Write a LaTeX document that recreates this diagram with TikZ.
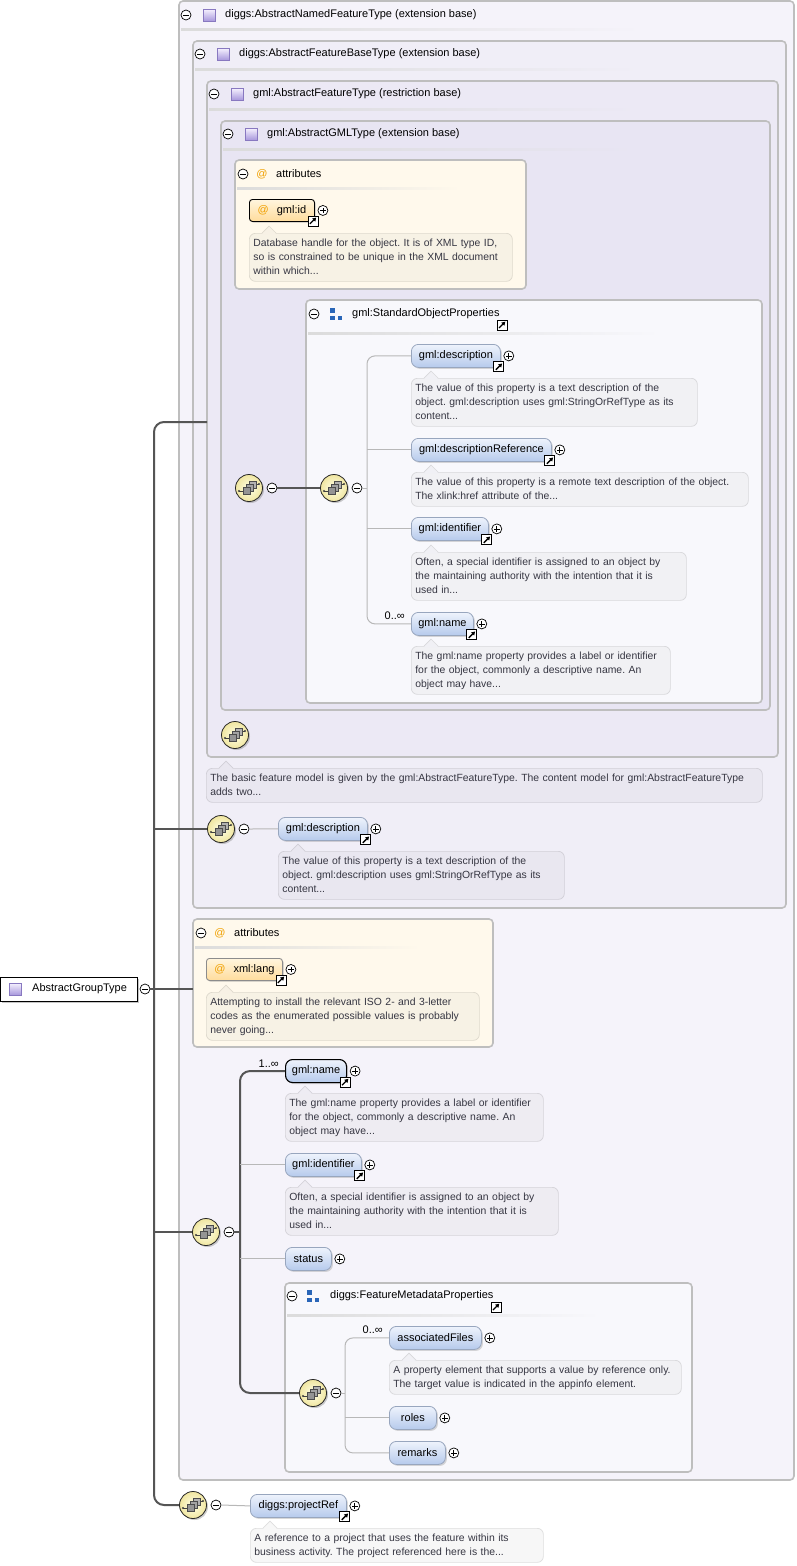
\documentclass[tikz,border=0pt]{standalone}
\usepackage{fontspec}
\setmainfont{Liberation Sans}
\usetikzlibrary{shadows,arrows.meta,calc}
\frenchspacing
\definecolor{bgA}{HTML}{F5F3FA}
\definecolor{bgB}{HTML}{F0EEF7}
\definecolor{bgC}{HTML}{ECE9F5}
\definecolor{bgD}{HTML}{E8E5F3}
\definecolor{creamBg}{HTML}{FFF9EC}
\definecolor{grpBg}{HTML}{F8F8FC}
\definecolor{pageBg}{HTML}{FFFFFF}
\definecolor{boxLine}{HTML}{BEBEBE}
\definecolor{elTop}{HTML}{EEF3FC}
\definecolor{elBot}{HTML}{B6CAEC}
\definecolor{elLine}{HTML}{98A6BE}
\definecolor{atTop}{HTML}{FFF5DE}
\definecolor{atBot}{HTML}{FFDC9C}
\definecolor{trunkC}{HTML}{555555}
\definecolor{thinC}{HTML}{B8B8B8}
\definecolor{descText}{HTML}{363642}
\definecolor{atOrange}{HTML}{F0A000}
\definecolor{grpBlue}{HTML}{2A66B8}
\definecolor{ctTop}{HTML}{F6F2FF}
\definecolor{ctBot}{HTML}{A898DC}
\definecolor{ctLine}{HTML}{8878C0}
\definecolor{seqIn}{HTML}{FFFFE8}
\definecolor{seqOut}{HTML}{F0E6A0}
\tikzset{
 every node/.style={font=\fontsize{11}{13}\selectfont},
 container/.style={draw=boxLine, line width=1.6pt, rounded corners=4pt},
 shad/.style={drop shadow={shadow xshift=1.5pt, shadow yshift=-1.5pt, opacity=0.3}},
 elem/.style={draw=elLine, line width=0.8pt, rounded corners=7pt, top color=elTop, bottom color=elBot,
   minimum height=23pt, inner sep=0pt, anchor=north west, shad},
 reqelem/.style={elem, draw=black, line width=1.1pt},
 attr/.style={draw=black, line width=0.9pt, rounded corners=3pt, top color=atTop, bottom color=atBot,
   minimum height=22pt, inner sep=0pt, anchor=north west, shad},
 pmc/.style={circle, draw=black, fill=white, line width=0.7pt, minimum size=10pt, inner sep=0pt},
 minus/.style={pmc, path picture={\draw[line width=0.8pt] ([xshift=-2.7pt]path picture bounding box.center) -- ([xshift=2.7pt]path picture bounding box.center);}},
 plus/.style={pmc, path picture={\draw[line width=0.8pt] ([xshift=-2.7pt]path picture bounding box.center) -- ([xshift=2.7pt]path picture bounding box.center) ([yshift=-2.7pt]path picture bounding box.center) -- ([yshift=2.7pt]path picture bounding box.center);}},
 refb/.style={draw=black, fill=white, line width=0.7pt, minimum size=10pt, inner sep=0pt,
   path picture={\draw[line width=1.3pt, -{Triangle[length=3.6pt,width=4.2pt]}] ([xshift=-3pt,yshift=-3pt]path picture bounding box.center) -- ([xshift=3.3pt,yshift=3.3pt]path picture bounding box.center);}},
 seq/.style={circle, draw=black!85, line width=0.8pt, inner color=seqIn, outer color=seqOut,
   minimum size=27pt, inner sep=0pt, drop shadow={shadow xshift=1.5pt, shadow yshift=-1.5pt, opacity=0.4}},
 ctype/.style={draw=ctLine, line width=0.7pt, top color=ctTop, bottom color=ctBot, minimum size=12pt, inner sep=0pt},
 grpic/.style={minimum size=13pt, inner sep=0pt, path picture={
   \fill[grpBlue] ([xshift=-6pt,yshift=6pt]path picture bounding box.center) rectangle ([xshift=-1.5pt,yshift=1.5pt]path picture bounding box.center);
   \fill[grpBlue] ([xshift=-6pt,yshift=-1.5pt]path picture bounding box.center) rectangle ([xshift=-1.5pt,yshift=-6pt]path picture bounding box.center);
   \fill[grpBlue] ([xshift=1.5pt,yshift=-1.5pt]path picture bounding box.center) rectangle ([xshift=6pt,yshift=-6pt]path picture bounding box.center);}},
 hdr/.style={anchor=west, inner sep=0pt},
 atsign/.style={text=atOrange, inner sep=0pt},
 card/.style={anchor=base east, inner sep=0pt},
 desc/.style={fill=#1!97!black, draw=#1!87!black, line width=0.7pt, rounded corners=6pt,
   anchor=north west, align=left, inner xsep=4pt, inner ysep=3pt, text=descText,
   font=\fontsize{10.4}{14}\selectfont, execute at begin node=\strut, execute at end node=\strut},
 trunk/.style={draw=trunkC, line width=2pt},
 thinc/.style={draw=thinC, line width=1pt},
}
\newcommand\notch[2]{%
 \fill[#2!97!black] ([xshift=13pt,yshift=-1pt]#1.north west) -- ([xshift=20pt,yshift=7pt]#1.north west) -- ([xshift=27pt,yshift=-1pt]#1.north west) -- cycle;
 \draw[#2!87!black, line width=0.7pt] ([xshift=13pt]#1.north west) -- ([xshift=20pt,yshift=7pt]#1.north west) -- ([xshift=27pt]#1.north west);}
\newcommand\El[6]{%
 \node[#1, minimum width=#5pt] (#2) at (#3,#4) {#6};
 \node[plus] (#2p) at ([xshift=8pt]#2.east) {};}
\newcommand\Rf[1]{\node[refb] (#1r) at ([xshift=-2pt,yshift=1pt]#1.south east) {};}
\newcommand\seqglyph[1]{%
 \begin{scope}[shift={(#1.center)}]
  \draw[black!75, line width=0.7pt] (-10,3) -- (-6,3) (7,-4) -- (10,-4);
  \fill[black!75] (-10,3) circle (1.2pt) (10,-4) circle (1.2pt);
  \filldraw[draw=black!70, fill=black!30, line width=0.5pt] (0,-7) rectangle (7,0);
  \filldraw[draw=black!70, fill=black!36, line width=0.5pt] (-3,-4) rectangle (4,3);
  \filldraw[draw=black!70, fill=black!42, line width=0.5pt] (-6,-1) rectangle (1,6);
 \end{scope}}
\newcommand\Seq[3]{\node[seq] (#1) at (#2,#3) {}; \seqglyph{#1}}
\begin{document}
\begin{tikzpicture}[x=1pt,y=-1pt]
\useasboundingbox (0,0) rectangle (796,1566);
\fill[white] (0,0) rectangle (796,1566);
% containers
\filldraw[container, fill=bgA] (179,1) rectangle (794,1480);
\shade[left color=black!14, right color=bgA] (181,28) rectangle (642,30);
\filldraw[container, fill=bgB] (193,41) rectangle (786,908);
\shade[left color=black!14, right color=bgB] (195,68) rectangle (640,70);
\filldraw[container, fill=bgC] (207,81) rectangle (778,757);
\shade[left color=black!14, right color=bgC] (209,108) rectangle (638,110);
\filldraw[container, fill=bgD] (221,121) rectangle (770,710);
\shade[left color=black!14, right color=bgD] (223,148) rectangle (635,150);
\filldraw[container, fill=creamBg] (235,160) rectangle (526,289);
\shade[left color=black!14, right color=creamBg] (237,187) rectangle (460,189);
\filldraw[container, fill=grpBg] (306,300) rectangle (762,703);
\shade[left color=black!14, right color=grpBg] (308,332) rectangle (660,334);
\filldraw[container, fill=creamBg] (193,919) rectangle (493,1047);
\shade[left color=black!14, right color=creamBg] (195,946) rectangle (420,948);
\filldraw[container, fill=grpBg] (285,1283) rectangle (692,1472);
\shade[left color=black!14, right color=grpBg] (287,1314) rectangle (600,1316);
% headers
\node[minus] (h1m) at (186,15) {}; \node[ctype] (h1i) at (209,15) {};
\node[hdr] (h1t) at (225,15) {diggs:AbstractNamedFeatureType (extension base)};
\node[minus] (h2m) at (200,54) {}; \node[ctype] (h2i) at (223,54) {};
\node[hdr] (h2t) at (239,54) {diggs:AbstractFeatureBaseType (extension base)};
\node[minus] (h3m) at (214,94) {}; \node[ctype] (h3i) at (237,94) {};
\node[hdr] (h3t) at (253,94) {gml:AbstractFeatureType (restriction base)};
\node[minus] (h4m) at (228,134) {}; \node[ctype] (h4i) at (251,134) {};
\node[hdr] (h4t) at (267,134) {gml:AbstractGMLType (extension base)};
\node[minus] (a1m) at (243,174) {}; \node[atsign] (a1i) at (262,174) {@};
\node[hdr] (a1t) at (276,174) {attributes};
\node[minus] (g1m) at (314,314) {}; \node[grpic] (g1i) at (336,314) {};
\node[hdr] (g1t) at (352,314) {gml:StandardObjectProperties};
\node[refb] (g1r) at (502,325) {};
\node[minus] (a2m) at (201,933) {}; \node[atsign] (a2i) at (220,933) {@};
\node[hdr] (a2t) at (234,933) {attributes};
\node[minus] (g2m) at (292,1296) {}; \node[grpic] (g2i) at (313,1296) {};
\node[hdr] (g2t) at (330,1296) {diggs:FeatureMetadataProperties};
\node[refb] (g2r) at (496,1307) {};
% root
\node[draw=black, line width=0.9pt, fill=white, minimum width=137pt, minimum height=24pt, anchor=north west, inner sep=0pt, drop shadow={shadow xshift=2pt, shadow yshift=-2pt, opacity=0.45}] (root) at (0,977) {};
\node[ctype] (rooti) at (15,989) {};
\node[hdr] (roott) at (32,989) {AbstractGroupType};
\node[minus] (rootm) at (145,989) {};
% attribute gml:id
\El{attr}{aId}{249}{199}{65}{\textcolor{atOrange}{@}\hspace{8pt}gml:id}\Rf{aId}
\node[desc=creamBg, text width=255pt] (dId) at (249,233) {Database handle for the object. It is of XML type ID,\\so is constrained to be unique in the XML document\\within which...};
\notch{dId}{creamBg}
% sequences
\Seq{seqA}{249}{488} \node[minus] (mA) at (272,488) {};
\Seq{seqB}{334}{488} \node[minus] (mB) at (357,488) {};
\Seq{seqC}{235}{735}
\Seq{seqD}{221}{829} \node[minus] (mD) at (244,829) {};
\Seq{seqG}{206}{1232} \node[minus] (mG) at (229,1232) {};
\Seq{seqH}{313}{1393} \node[minus] (mH) at (336,1393) {};
\Seq{seqP}{193}{1505} \node[minus] (mP) at (216,1505) {};
% StandardObjectProperties
\El{elem}{eDesc1}{411}{344}{89}{gml:description}\Rf{eDesc1}
\node[desc=grpBg, text width=278pt] (dDesc1) at (411,378) {The value of this property is a text description of the\\object. gml:description uses gml:StringOrRefType as its\\content...};
\notch{dDesc1}{grpBg}
\El{elem}{eDescRef}{411}{438}{140}{gml:descriptionReference}\Rf{eDescRef}
\node[desc=grpBg, text width=329pt] (dDescRef) at (411,472) {The value of this property is a remote text description of the object.\\The xlink:href attribute of the...};
\notch{dDescRef}{grpBg}
\El{elem}{eIdent1}{411}{517}{77}{gml:identifier}\Rf{eIdent1}
\node[desc=grpBg, text width=267pt] (dIdent1) at (411,552) {Often, a special identifier is assigned to an object by\\the maintaining authority with the intention that it is\\used in...};
\notch{dIdent1}{grpBg}
\El{elem}{eName1}{411}{612}{62}{gml:name}\Rf{eName1}
\node[card] (cName1) at ([xshift=-6pt,yshift=4pt]eName1.west) {0..∞};
\node[desc=grpBg, text width=251pt] (dName1) at (411,646) {The gml:name property provides a label or identifier\\for the object, commonly a descriptive name. An\\object may have...};
\notch{dName1}{grpBg}
% feature description
\node[desc=bgB, text width=548pt] (dFeat) at (206,768) {The basic feature model is given by the gml:AbstractFeatureType. The content model for gml:AbstractFeatureType\\adds two...};
\notch{dFeat}{bgB}
% box2 description element
\El{elem}{eDesc2}{278}{817}{89}{gml:description}\Rf{eDesc2}
\node[desc=bgB, text width=278pt] (dDesc2) at (278,851) {The value of this property is a text description of the\\object. gml:description uses gml:StringOrRefType as its\\content...};
\notch{dDesc2}{bgB}
% xml:lang
\El{attr, draw=black!45}{aLang}{206}{958}{76}{\textcolor{atOrange}{@}\hspace{8pt}xml:lang}\Rf{aLang}
\node[desc=creamBg, text width=265pt] (dLang) at (206,992) {Attempting to install the relevant ISO 2- and 3-letter\\codes as the enumerated possible values is probably\\never going...};
\notch{dLang}{creamBg}
% second sequence
\El{reqelem}{eName2}{285}{1059}{61}{gml:name}\Rf{eName2}
\node[card] (cName2) at ([xshift=-6pt,yshift=4pt]eName2.west) {1..∞};
\node[desc=bgA, text width=250pt] (dName2) at (285,1093) {The gml:name property provides a label or identifier\\for the object, commonly a descriptive name. An\\object may have...};
\notch{dName2}{bgA}
\El{elem}{eIdent2}{285}{1153}{76}{gml:identifier}\Rf{eIdent2}
\node[desc=bgA, text width=265pt] (dIdent2) at (285,1187) {Often, a special identifier is assigned to an object by\\the maintaining authority with the intention that it is\\used in...};
\notch{dIdent2}{bgA}
\El{elem}{eStatus}{285}{1247}{46}{status}
% FeatureMetadataProperties
\El{elem}{eAssoc}{389}{1326}{92}{associatedFiles}
\node[card] (cAssoc) at ([xshift=-6pt,yshift=4pt]eAssoc.west) {0..∞};
\node[desc=grpBg, text width=284pt] (dAssoc) at (389,1360) {A property element that supports a value by reference only.\\The target value is indicated in the appinfo element.};
\notch{dAssoc}{grpBg}
\El{elem}{eRoles}{389}{1406}{47}{roles}
\El{elem}{eRemarks}{389}{1441}{56}{remarks}
% projectRef
\El{elem}{eProj}{250}{1494}{96}{diggs:projectRef}\Rf{eProj}
\node[desc=pageBg, text width=285pt] (dProj) at (250,1528) {A reference to a project that uses the feature within its\\business activity. The project referenced here is the...};
\notch{dProj}{pageBg}
% connectors
\coordinate (b3in) at (207,422);
\coordinate (jt) at (154,422);
\coordinate (jb) at (154,1505);
\coordinate (a2in) at (193,989);
\coordinate (v1x) at (367,0);
\coordinate (v2x) at (240,0);
\coordinate (v3x) at (345,0);
\draw[trunk, rounded corners=10pt] (b3in) -- (jt) -- (jb) -- (seqP.west);
\draw[trunk] (jt |- seqD.west) -- (seqD.west);
\draw[trunk] (jt |- seqG.west) -- (seqG.west);
\draw[trunk] (rootm.east) -- (a2in);
\draw[trunk] (mA.east) -- (seqB.west);
\draw[thinc, rounded corners=8pt] (eDesc1.west) -- (v1x |- eDesc1.west) -- (v1x |- eName1.west) -- (eName1.west);
\draw[thinc] (mB.east) -- (v1x |- mB.east);
\draw[thinc] (v1x |- eDescRef.west) -- (eDescRef.west);
\draw[thinc] (v1x |- eIdent1.west) -- (eIdent1.west);
\draw[thinc] (mD.east) -- (eDesc2.west);
\draw[trunk, rounded corners=10pt] (eName2.west) -- (v2x |- eName2.west) -- (v2x |- seqH.west) -- (seqH.west);
\draw[trunk] (mG.east) -- (v2x |- mG.east);
\draw[thinc] (v2x |- eIdent2.west) -- (eIdent2.west);
\draw[thinc] (v2x |- eStatus.west) -- (eStatus.west);
\draw[thinc, rounded corners=8pt] (eAssoc.west) -- (v3x |- eAssoc.west) -- (v3x |- eRemarks.west) -- (eRemarks.west);
\draw[thinc] (mH.east) -- (v3x |- mH.east);
\draw[thinc] (v3x |- eRoles.west) -- (eRoles.west);
\draw[thinc] (mP.east) -- (eProj.west);
\end{tikzpicture}
\end{document}
